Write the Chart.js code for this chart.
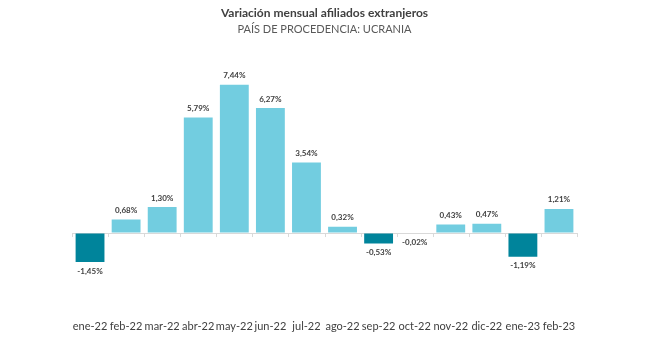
<!DOCTYPE html>
<html>
<head>
<meta charset="utf-8">
<script src="https://cdn.jsdelivr.net/npm/chart.js@4.4.0/dist/chart.umd.min.js"></script>
<style>
  html, body { margin: 0; padding: 0; background: #fff; }
  #wrap { width: 650px; height: 342px; }
</style>
</head>
<body>
<div id="wrap"><canvas id="afiliadosChart"></canvas></div>
<script>
const months = ['ene-22', 'feb-22', 'mar-22', 'abr-22', 'may-22', 'jun-22', 'jul-22', 'ago-22', 'sep-22', 'oct-22', 'nov-22', 'dic-22', 'ene-23', 'feb-23'];
const variacion = [-1.45, 0.68, 1.30, 5.79, 7.44, 6.27, 3.54, 0.32, -0.53, -0.02, 0.43, 0.47, -1.19, 1.21];

const lightBar = '#72cde0';
const darkBar = '#00849b';

// labels with the value over / under each bar, comma decimals
const valueLabels = {
    id: 'valueLabels',
    afterDatasetsDraw(chart) {
        const ctx = chart.ctx;
        const meta = chart.getDatasetMeta(0);
        ctx.save();
        ctx.font = 'bold 8px Lato';
        ctx.fillStyle = '#404040';
        ctx.textAlign = 'center';
        meta.data.forEach((bar, i) => {
            const v = variacion[i];
            const txt = v.toFixed(2).replace('.', ',') + '%';
            if (v >= 0) {
                ctx.textBaseline = 'bottom';
                ctx.fillText(txt, bar.x, bar.y - 5);
            } else {
                ctx.textBaseline = 'top';
                ctx.fillText(txt, bar.x, bar.y + 5);
            }
        });
        ctx.restore();
    }
};

// little tick marks hanging from the zero line between categories
const zeroTicks = {
    id: 'zeroTicks',
    afterDatasetsDraw(chart) {
        const ctx = chart.ctx;
        const x = chart.scales.x;
        const y0 = chart.scales.y.getPixelForValue(0);
        const step = x.getPixelForValue(1) - x.getPixelForValue(0);
        ctx.save();
        ctx.strokeStyle = '#d9d9d9';
        ctx.lineWidth = 1;
        ctx.beginPath();
        for (let i = 0; i <= months.length; i++) {
            const px = Math.round(x.getPixelForValue(0) - step / 2 + i * step) + 0.5;
            ctx.moveTo(px, y0);
            ctx.lineTo(px, y0 + 4);
        }
        ctx.stroke();
        ctx.restore();
    }
};

const ctx = document.getElementById('afiliadosChart').getContext('2d');
new Chart(ctx, {
    type: 'bar',
    data: {
        labels: months,
        datasets: [{
            data: variacion,
            backgroundColor: variacion.map(v => v < 0 ? darkBar : lightBar),
            categoryPercentage: 0.8,
            barPercentage: 1
        }]
    },
    options: {
        responsive: true,
        maintainAspectRatio: false,
        animation: false,
        layout: { padding: { left: 72, right: 73, top: 4, bottom: 3 } },
        scales: {
            x: {
                grid: { display: false },
                border: { display: false },
                ticks: {
                    color: '#404040',
                    font: { family: 'Lato', size: 11 },
                    maxRotation: 0,
                    autoSkip: false,
                    padding: 6
                }
            },
            y: {
                min: -3.65,
                max: 8.6,
                ticks: { display: false, stepSize: 1 },
                border: { display: false },
                grid: {
                    drawTicks: false,
                    color: c => c.tick.value === 0 ? '#d9d9d9' : 'transparent'
                }
            }
        },
        plugins: {
            legend: { display: false },
            tooltip: { enabled: false },
            title: {
                display: true,
                text: 'Variación mensual afiliados extranjeros',
                color: '#404040',
                font: { family: 'Lato', size: 12, weight: 'bold' },
                padding: { top: 2, bottom: 2 }
            },
            subtitle: {
                display: true,
                text: 'PAÍS DE PROCEDENCIA: UCRANIA',
                color: '#595959',
                font: { family: 'Lato', size: 11 },
                padding: { bottom: 26 }
            }
        }
    },
    plugins: [valueLabels, zeroTicks]
});
</script>
</body>
</html>
